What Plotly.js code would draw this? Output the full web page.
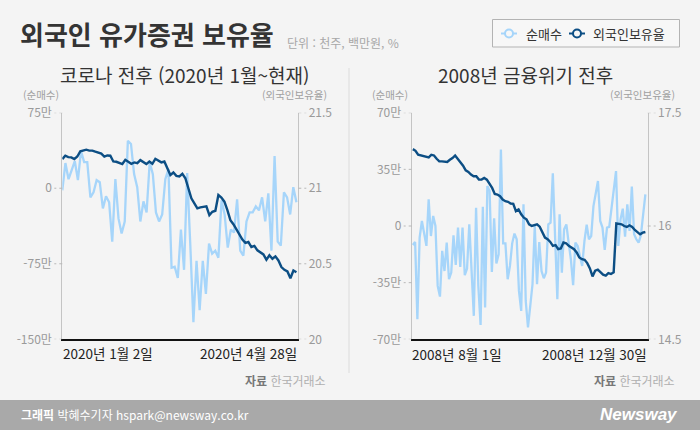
<!DOCTYPE html>
<html lang="ko">
<head>
<meta charset="utf-8">
<script src="https://cdn.plot.ly/plotly-3.0.1.min.js"></script>
<style>
  html, body { margin: 0; padding: 0; background: #f4f4f4; }
  #chart { width: 700px; height: 430px; }
</style>
</head>
<body>
<div id="chart"></div>
<script>
// 코로나 전후 (2020-01-02 ~ 2020-04-28): 외국인 순매수 (만) / 외국인보유율 (%)
const covidNetBuy = [
  -2, 25, 9, 19, 27, 8, 37, 26, 26, -9, -4, 8, 6, -20, -8, -14, -53, 9, -30, -45,
  -33, 47, 44, 14, 1, -33, -13, -24, 26, 14, -24, -33, -26, 9, 19, -79, -78, -89, -41, -81,
  15, -56, -133, -72, -121, -72, -105, -55, -65, -62, -69, -12, -26, -59, -41, -44, -11, -62, -67, -33,
  -24, -24, -18, -22, -9, -33, -5, -62, 32, -53, -57, -4, -9, -26, 1, -14
];
const covidHolding = [
  21.193, 21.215, 21.206, 21.204, 21.193, 21.21, 21.244, 21.249, 21.255, 21.249,
  21.249, 21.242, 21.233, 21.229, 21.21, 21.217, 21.215, 21.177, 21.175, 21.166,
  21.16, 21.188, 21.177, 21.162, 21.171, 21.166, 21.186, 21.175, 21.16, 21.177,
  21.162, 21.195, 21.184, 21.171, 21.177, 21.133, 21.087, 21.104, 21.082,
  21.078, 21.095, 21.066, 21.0, 20.933, 20.90, 20.867, 20.873, 20.877, 20.88,
  20.822, 20.844, 20.851, 20.955, 20.938, 20.911, 20.855, 20.789, 20.762, 20.727,
  20.689, 20.66, 20.638, 20.644, 20.611, 20.618, 20.589, 20.578, 20.562, 20.527,
  20.556, 20.533, 20.549, 20.522, 20.478, 20.46, 20.449, 20.404, 20.455, 20.444
];

// 2008년 금융위기 전후 (2008-08-01 ~ 2008-12-30)
const crisisNetBuy = [
  -11.7, -9.9, -57.6, -7.2, 3.1, -4.1, -12.3, 16.5, -6.2, 6.2, 0, -37, -43.6, -15.4, -27.8,
  -10.3, -32.9, -28.8, -5.8, -24.1, -1, -25.3, -1, -30.4, -26.3, 1, -23.7, -55.5, 11.3, -37,
  -61.1, 11.9, -50.4, 24.7, 21.6, -28.4, 4.7, -23.2, -17.5, 47.3, -10.7, -10.7, -32.9, -24.7, -10.7,
  -4.7, -8.2, -40.1, -52.5, 13.4, -46.3, -62.7,
  -49.4, -36, 0, -36, -9.9, -27.8, -32.3, -28.8, 1, 2, 32.5, -12.3, -45.3, 7.2, -28.8,
  -2, 1, -10.3, -20.6, -36.6, -10.3, -12.3, -18.5, -24.7, -9.3, 0.8, -8.2, -6.2, 12.3, 19.5,
  27.8, 3.1, -1, -14.8, -1, -0.6, 12.3, 22.6, 33.9, -12.3, 4.1, 10.7, -6.6, 13.4, -3.1,
  24.3, -5.1, -8.2, -10.3, -5.8, 5.1, 19.5
];
const crisisHolding = [
  17.018, 16.996, 16.943, 16.934, 16.921, 16.912, 16.908, 16.943, 16.934, 16.89,
  16.855, 16.855, 16.847, 16.847, 16.877, 16.899, 16.934, 16.886, 16.851, 16.798,
  16.737, 16.715, 16.68, 16.658, 16.658, 16.614, 16.614, 16.636, 16.614, 16.557,
  16.504, 16.425, 16.417, 16.395, 16.351, 16.329, 16.32, 16.298, 16.294, 16.197,
  16.219, 16.154, 16.11,
  16.088, 16.022, 16.0, 16.009, 16.022, 15.991, 15.921, 15.846, 15.825, 15.789,
  15.737, 15.746, 15.693, 15.702, 15.781, 15.772, 15.737, 15.715, 15.693, 15.649,
  15.583, 15.561, 15.553, 15.509, 15.439, 15.333, 15.408, 15.421, 15.386, 15.355,
  15.342, 15.377, 15.364, 15.386, 16.035, 16.031, 16.022, 16.0, 15.987, 16.009,
  15.987, 15.947, 15.921, 15.89, 15.912, 15.921
];

// 축 눈금과 기간 표시
const covidNetTicks = [-150, -75, 0, 75];
const covidNetTickText = ['-150만', '-75만', '0', '75만'];
const covidHoldTicks = [20, 20.5, 21, 21.5];
const covidHoldTickText = ['20', '20.5', '21', '21.5'];
const crisisNetTicks = [-70, -35, 0, 35, 70];
const crisisNetTickText = ['-70만', '-35만', '0', '35만', '70만'];
const crisisHoldTicks = [14.5, 16, 17.5];
const crisisHoldTickText = ['14.5', '16', '17.5'];
const covidPeriod = ['2020년 1월 2일', '2020년 4월 28일'];
const crisisPeriod = ['2008년 8월 1일', '2008년 12월 30일'];
const seriesNames = ['순매수', '외국인보유율'];

// ---------- 레이아웃 ----------
const W = 700, H = 430;
const px = v => v / W;           // 가로 픽셀 -> paper
const py = v => 1 - v / H;       // 세로 픽셀 -> paper
const FONT = '"Noto Sans CJK KR", "Noto Sans", sans-serif';
const LIGHT = '#a6d5fa';
const DARK = '#0c4e84';
const BG = '#f4f4f4';

const leftDom = [px(62.3), px(298.3)];
const rightDom = [px(411.7), px(647.7)];
const yDom = [py(339.3), py(112.7)];

// 거래일 순서를 기간 전체 [0, 1]로 정규화
const span = arr => arr.map((_, i) => i / (arr.length - 1));

const traces = [
  { x: span(covidNetBuy), y: covidNetBuy, xaxis: 'x', yaxis: 'y', name: seriesNames[0],
    mode: 'lines', line: { color: LIGHT, width: 2.3 } },
  { x: span(covidHolding), y: covidHolding, xaxis: 'x', yaxis: 'y2', name: seriesNames[1],
    mode: 'lines', line: { color: DARK, width: 2.4 } },
  { x: span(crisisNetBuy), y: crisisNetBuy, xaxis: 'x2', yaxis: 'y3', name: seriesNames[0],
    mode: 'lines', line: { color: LIGHT, width: 2.3 } },
  { x: span(crisisHolding), y: crisisHolding, xaxis: 'x2', yaxis: 'y4', name: seriesNames[1],
    mode: 'lines', line: { color: DARK, width: 2.4 } }
];

const tickFont = { family: FONT, size: 12, color: '#9a9a9a' };
function yAxis(range, vals, text, extra) {
  return Object.assign({
    domain: yDom, range: range, tickvals: vals, ticktext: text,
    showline: true, linecolor: '#c4c4c4', linewidth: 1,
    showgrid: false, zeroline: false, fixedrange: true,
    ticks: 'outside', ticklen: 7, tickcolor: 'rgba(0,0,0,0)',
    tickfont: tickFont
  }, extra);
}
function xAxis(dom, range, anchor) {
  return {
    domain: dom, range: range, anchor: anchor,
    showline: true, linecolor: '#111', linewidth: 1.5,
    showticklabels: false, ticks: '', showgrid: false, zeroline: false, fixedrange: true
  };
}

// 점선 눈금
const shapes = [];
function dotTicks(vals, yref, xEdge, dir) {
  vals.forEach(v => shapes.push({
    type: 'line', xref: 'paper', yref: yref,
    x0: xEdge, x1: xEdge + dir * px(8), y0: v, y1: v,
    line: { color: '#b8b8b8', width: 1, dash: 'dot' }
  }));
}
dotTicks(covidNetTicks, 'y', leftDom[0], -1);
dotTicks(covidHoldTicks, 'y2', leftDom[1], 1);
dotTicks(crisisNetTicks, 'y3', rightDom[0], -1);
dotTicks(crisisHoldTicks, 'y4', rightDom[1], 1);

// 패널 구분선
shapes.push({ type: 'line', xref: 'paper', yref: 'paper',
  x0: px(349), x1: px(349), y0: py(68), y1: py(373),
  line: { color: '#dcdcdc', width: 1 } });

// 하단 띠
shapes.push({ type: 'rect', xref: 'paper', yref: 'paper',
  x0: 0, x1: 1, y0: 0, y1: py(400), fillcolor: '#a9a9a9', line: { width: 0 }, layer: 'below' });

// 범례 상자
shapes.push({ type: 'rect', xref: 'paper', yref: 'paper',
  x0: px(492.5), x1: px(679.5), y0: py(47), y1: py(19.5),
  fillcolor: '#f7f7f7', line: { color: '#b3b3b3', width: 1 } });
function legendMark(cx, color) {
  shapes.push({ type: 'line', xref: 'paper', yref: 'paper',
    x0: px(cx - 8), x1: px(cx + 8), y0: py(33.5), y1: py(33.5),
    line: { color: color, width: 2 } });
  shapes.push({ type: 'circle', xref: 'paper', yref: 'paper',
    x0: px(cx - 4), x1: px(cx + 4), y0: py(37.5), y1: py(29.5),
    fillcolor: '#f7f7f7', line: { color: color, width: 2 } });
}
legendMark(509, LIGHT);
legendMark(577, DARK);

function note(text, x, y, opts) {
  return Object.assign({
    text: text, x: px(x), y: py(y), xref: 'paper', yref: 'paper',
    showarrow: false, xanchor: 'left', yanchor: 'middle',
    font: { family: FONT, size: 12, color: '#333' }
  }, opts);
}

const axisNoteFont = { family: FONT, size: 10.5, color: '#a0a0a0' };

const annotations = [
  note('<b>외국인 유가증권 보유율</b>', 18, 34, { font: { family: FONT, size: 26, color: '#343434' } }),
  note('단위 : 천주, 백만원, %', 285, 42, { font: { family: FONT, size: 12, color: '#a8a8a8' } }),
  note(seriesNames[0], 524, 33.5, { font: { family: FONT, size: 13, color: '#333' } }),
  note(seriesNames[1], 591, 33.5, { font: { family: FONT, size: 13, color: '#333' } }),

  note('코로나 전후 (2020년 1월~현재)', 184, 74, { xanchor: 'center', font: { family: FONT, size: 19, color: '#333' } }),
  note('2008년 금융위기 전후', 525, 74, { xanchor: 'center', font: { family: FONT, size: 19, color: '#333' } }),

  note('(순매수)', 61, 95, { xanchor: 'right', font: axisNoteFont }),
  note('(외국인보유율)', 329, 95, { xanchor: 'right', font: axisNoteFont }),
  note('(순매수)', 410, 95, { xanchor: 'right', font: axisNoteFont }),
  note('(외국인보유율)', 677, 95, { xanchor: 'right', font: axisNoteFont }),

  note(covidPeriod[0], 61, 353, { font: { family: FONT, size: 13.5, color: '#222' } }),
  note(covidPeriod[1], 299, 353, { xanchor: 'right', font: { family: FONT, size: 13.5, color: '#222' } }),
  note(crisisPeriod[0], 410, 354, { font: { family: FONT, size: 13.5, color: '#222' } }),
  note(crisisPeriod[1], 649, 354, { xanchor: 'right', font: { family: FONT, size: 13.5, color: '#222' } }),

  note('<b><span style="color:#777">자료</span></b> 한국거래소', 328, 380,
    { xanchor: 'right', font: { family: FONT, size: 12, color: '#b0b0b0' } }),
  note('<b><span style="color:#777">자료</span></b> 한국거래소', 677, 380,
    { xanchor: 'right', font: { family: FONT, size: 12, color: '#b0b0b0' } }),

  note('<b>그래픽</b> 박혜수기자 hspark@newsway.co.kr', 19, 414,
    { font: { family: FONT, size: 12, color: '#ffffff' } }),
  note('<b><i>Newsway</i></b>', 680, 414,
    { xanchor: 'right', font: { family: '"Liberation Sans", sans-serif', size: 17, color: '#ffffff' } })
];

const layout = {
  width: W, height: H,
  margin: { l: 0, r: 0, t: 0, b: 0, pad: 0 },
  paper_bgcolor: BG, plot_bgcolor: 'rgba(0,0,0,0)',
  showlegend: false,
  font: { family: FONT },
  xaxis: xAxis(leftDom, [0, 1.008], 'y'),
  yaxis: yAxis([-150, 75], covidNetTicks, covidNetTickText, { anchor: 'x', side: 'left' }),
  yaxis2: yAxis([20, 21.5], covidHoldTicks, covidHoldTickText, { anchor: 'x', side: 'right', overlaying: 'y' }),
  xaxis2: xAxis(rightDom, [-0.005, 1.01], 'y3'),
  yaxis3: yAxis([-70, 70], crisisNetTicks, crisisNetTickText, { anchor: 'x2', side: 'left' }),
  yaxis4: yAxis([14.5, 17.5], crisisHoldTicks, crisisHoldTickText, { anchor: 'x2', side: 'right', overlaying: 'y3' }),
  shapes: shapes,
  annotations: annotations
};

Plotly.newPlot('chart', traces, layout, { staticPlot: true, displayModeBar: false });
</script>
</body>
</html>
